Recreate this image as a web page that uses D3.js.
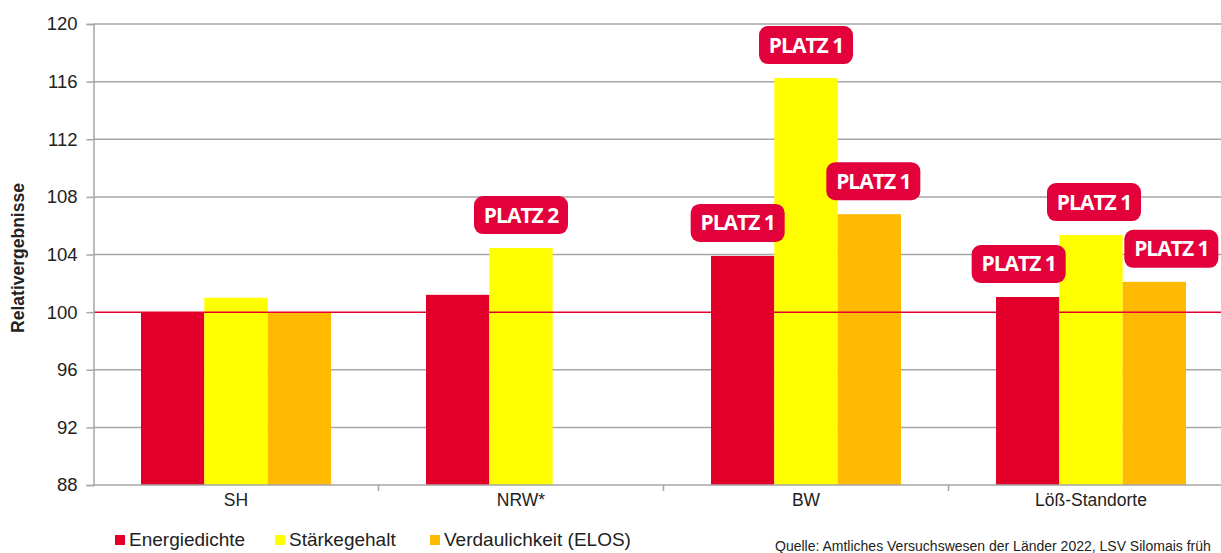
<!DOCTYPE html>
<html>
<head>
<meta charset="utf-8">
<script src="https://cdn.jsdelivr.net/npm/d3@7"></script>
<style>
    body { margin: 0; background: #fff; }
    svg { display: block; font-family: "Liberation Sans", Arial, sans-serif; }
</style>
</head>
<body>
<div id="chart"></div>
<script>
// Data
const categories = ['SH', 'NRW*', 'BW', 'Löß-Standorte'];
const seriesNames = ['Energiedichte', 'Stärkegehalt', 'Verdaulichkeit (ELOS)'];
const energiedichte = [100, 101.2, 103.9, 101.05];
const staerkegehalt = [101.0, 104.45, 116.25, 105.35];
const verdaulichkeit = [100, null, 106.8, 102.1];
const yTicks = [88, 92, 96, 100, 104, 108, 112, 116, 120];

// Rank badges: category, series index, text, horizontal shift
const badges = [
    { cat: 'NRW*', s: 1, text: 'PLATZ 2', dx: 0 },
    { cat: 'BW', s: 0, text: 'PLATZ 1', dx: -5 },
    { cat: 'BW', s: 1, text: 'PLATZ 1', dx: 0 },
    { cat: 'BW', s: 2, text: 'PLATZ 1', dx: 4 },
    { cat: 'Löß-Standorte', s: 0, text: 'PLATZ 1', dx: -9 },
    { cat: 'Löß-Standorte', s: 1, text: 'PLATZ 1', dx: 3 },
    { cat: 'Löß-Standorte', s: 2, text: 'PLATZ 1', dx: 17 },
];

const colors = ['#e2002b', '#ffff00', '#ffb900'];
const badgeColor = '#e2013a';

const W = 1221, H = 553;
const svg = d3.select('#chart').append('svg')
    .attr('width', W).attr('height', H);

const margin = { left: 93.5, top: 24, bottom: 485 };

// Scales
const x = d3.scaleBand()
    .domain(categories)
    .range([margin.left, margin.left + 4 * 285])
    .paddingInner(1 / 3)
    .paddingOuter(1 / 6);

const xs = d3.scaleBand()
    .domain(d3.range(3))
    .range([0, x.bandwidth()]);

const y = d3.scaleLinear()
    .domain([88, 120])
    .range([margin.bottom, margin.top]);

const values = [energiedichte, staerkegehalt, verdaulichkeit];

// Grid lines
svg.append('g')
    .selectAll('line')
    .data(yTicks.filter(d => d !== 88 && d !== 100))
    .join('line')
    .attr('x1', margin.left).attr('x2', W)
    .attr('y1', d => y(d)).attr('y2', d => y(d))
    .attr('stroke', '#a6a6a6').attr('stroke-width', 1.5);

// Bars
const flat = [];
categories.forEach((c, i) => {
    values.forEach((arr, s) => {
        if (arr[i] != null) flat.push({ cat: c, s, v: arr[i] });
    });
});

svg.append('g')
    .selectAll('rect')
    .data(flat)
    .join('rect')
    .attr('x', d => x(d.cat) + xs(d.s))
    .attr('width', xs.bandwidth())
    .attr('y', d => y(d.v))
    .attr('height', d => y(88) - y(d.v))
    .attr('fill', d => colors[d.s]);

// Reference line at 100
svg.append('line')
    .attr('x1', margin.left).attr('x2', W)
    .attr('y1', y(100)).attr('y2', y(100))
    .attr('stroke', '#e2002b').attr('stroke-width', 1.5);

// Y axis
const yAxis = svg.append('g')
    .attr('transform', `translate(${margin.left},0)`)
    .call(d3.axisLeft(y).tickValues(yTicks).tickSize(7).tickPadding(9));
yAxis.select('.domain').attr('stroke', '#a6a6a6').attr('stroke-width', 1.5);
yAxis.selectAll('.tick line').attr('stroke', '#a6a6a6').attr('stroke-width', 1.5);
yAxis.selectAll('text')
    .attr('font-size', 18.5).attr('font-family', '"Liberation Sans", Arial, sans-serif')
    .attr('fill', '#222');

// X axis
const xAxis = svg.append('g')
    .attr('transform', `translate(0,${margin.bottom})`)
    .call(d3.axisBottom(x).tickSize(0).tickPadding(9));
xAxis.select('.domain').attr('stroke', '#a6a6a6').attr('stroke-width', 1.5)
    .attr('d', `M${margin.left},0H${W}`);
xAxis.selectAll('text')
    .attr('font-size', 17.5).attr('font-family', '"Liberation Sans", Arial, sans-serif')
    .attr('fill', '#222');

// Category separator ticks
const step = x.step();
svg.append('g')
    .selectAll('line')
    .data(categories.slice(1))
    .join('line')
    .attr('x1', d => x(d) - step * x.paddingInner() / 2)
    .attr('x2', d => x(d) - step * x.paddingInner() / 2)
    .attr('y1', margin.bottom).attr('y2', margin.bottom + 6)
    .attr('stroke', '#a6a6a6').attr('stroke-width', 1.5);

// Y axis title
svg.append('text')
    .attr('transform', `translate(24,258) rotate(-90)`)
    .attr('text-anchor', 'middle')
    .attr('font-size', 17.5).attr('font-weight', 'bold')
    .attr('fill', '#222')
    .text('Relativergebnisse');

// Badges
const bw = 94, bh = 38;
const badgeG = svg.append('g')
    .selectAll('g')
    .data(badges)
    .join('g')
    .attr('transform', d => {
        const i = categories.indexOf(d.cat);
        const cx = x(d.cat) + xs(d.s) + xs.bandwidth() / 2 + d.dx;
        const top = y(values[d.s][i]) - 14 - bh;
        return `translate(${cx},${top})`;
    });

badgeG.append('rect')
    .attr('x', -bw / 2).attr('y', 0)
    .attr('width', bw).attr('height', bh)
    .attr('rx', 9).attr('ry', 9)
    .attr('fill', badgeColor);

badgeG.append('text')
    .attr('x', 0).attr('y', bh / 2 + 7.5)
    .attr('text-anchor', 'middle')
    .attr('font-family', '"Open Sans", sans-serif')
    .attr('font-weight', 'bold')
    .attr('font-size', 21)
    .attr('letter-spacing', -1)
    .attr('fill', '#fff')
    .text(d => d.text);

// Legend
const legendX = [115, 275, 430];
const legend = svg.append('g')
    .selectAll('g')
    .data(seriesNames)
    .join('g')
    .attr('transform', (d, i) => `translate(${legendX[i]},546)`);

legend.append('rect')
    .attr('x', 0).attr('y', -11)
    .attr('width', 10).attr('height', 10)
    .attr('fill', (d, i) => colors[i]);

legend.append('text')
    .attr('x', 14).attr('y', 0)
    .attr('font-size', 19)
    .attr('fill', '#222')
    .text(d => d);

// Source note
svg.append('text')
    .attr('x', 775).attr('y', 551)
    .attr('font-size', 14)
    .attr('fill', '#222')
    .text('Quelle: Amtliches Versuchswesen der Länder 2022, LSV Silomais früh');
</script>
</body>
</html>
